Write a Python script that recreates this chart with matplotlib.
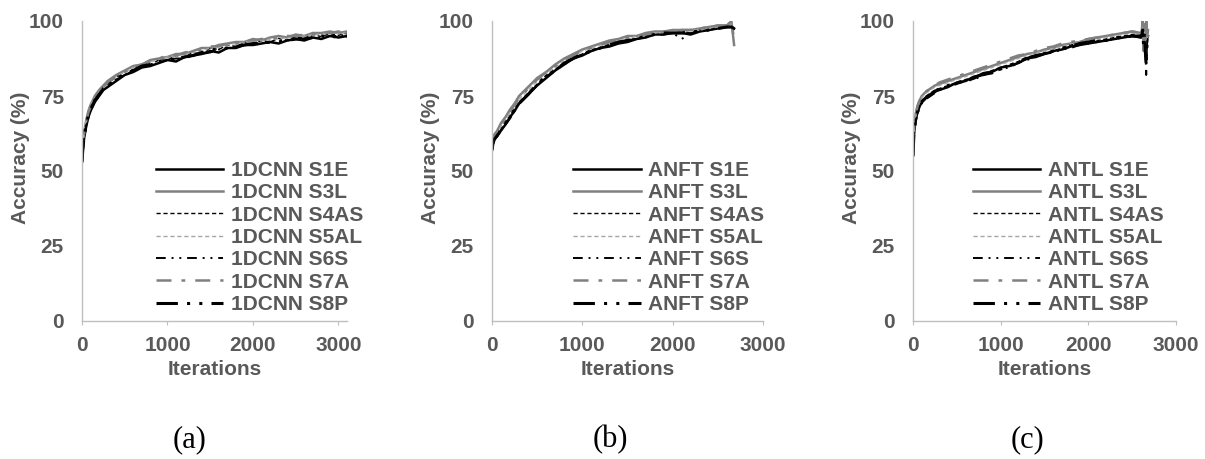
import matplotlib.pyplot as plt

plt.rcParams["font.family"] = ["Liberation Sans", "DejaVu Sans"]

series_names = ["S1E", "S3L", "S4AS", "S5AL", "S6S", "S7A", "S8P"]

# panel (a) 1DCNN
iters_a = [0, 10, 25, 50, 75, 100, 150, 200, 250, 300,
           400, 500, 600, 700, 800, 900, 1000, 1100, 1200, 1300,
           1400, 1500, 1600, 1700, 1800, 1900, 2000, 2100, 2200, 2300,
           2400, 2500, 2600, 2700, 2800, 2900, 3000, 3100]
acc_a = [
    [53, 57, 61, 65, 68, 70, 73, 75, 77, 78,
     80, 82, 83, 84.5, 85, 86, 87, 86.5, 88, 88.5,
     89, 90, 89.5, 91, 91, 92, 92, 92.5, 93, 92.5,
     93.5, 94, 93.5, 94.5, 94, 95, 94.5, 95],
    [54, 59, 63, 67, 70, 72, 75, 77, 78.5, 80,
     82, 83.5, 85, 85.5, 87, 87.5, 88, 89, 89, 90,
     91, 91, 92, 92.5, 93, 93, 94, 93.5, 94.5, 95,
     94.5, 95.5, 95, 96, 96, 96.5, 96, 96.5],
    [53, 58, 62, 66, 68.5, 71, 74, 75.5, 78, 79,
     81.5, 82, 84, 85.5, 85.5, 87, 87, 88.5, 88, 89.5,
     89, 91, 90.5, 92, 91.5, 92.8, 92.2, 93.5, 93, 94.2,
     93.6, 94.8, 94.2, 95.5, 94.8, 95.8, 95.2, 96],
    [54, 59, 63, 67, 70, 72, 74.5, 76.5, 78, 79.5,
     81.5, 83, 84.5, 85.5, 86.5, 87, 88, 88.5, 89, 89.5,
     90, 91, 91.5, 92, 92.5, 93, 93, 93.5, 94, 94,
     94.5, 95, 95, 95.5, 95.5, 96, 96, 96],
    [52.5, 57, 61, 65, 68, 70.5, 73.5, 75.5, 77, 78.5,
     80.5, 82, 83.5, 84.5, 85.5, 86, 87, 87.5, 87.5, 88.5,
     89, 89.5, 90.5, 91, 91.5, 92, 92, 92.5, 93, 93.5,
     93.5, 94, 94, 94.5, 94.5, 95, 95, 95.5],
    [54, 58.5, 62.5, 66.5, 69.5, 71.5, 74.5, 76.5, 78, 79.5,
     81.5, 83, 84.5, 85.5, 86.5, 87.5, 88.5, 88.5, 89.5, 90,
     90.5, 91.5, 91.5, 92.5, 92.5, 93.5, 93.5, 94, 94, 94.5,
     95, 95, 95.5, 95.5, 96, 96, 96.5, 96],
    [53, 57.5, 61.5, 65.5, 68.5, 70.5, 73.5, 75.5, 77.5, 78.5,
     80.5, 82.5, 83.5, 85, 85.5, 86.5, 87, 87.5, 88, 88.5,
     89.5, 90, 90.5, 91, 91.5, 92, 92.5, 92.5, 93, 93,
     93.5, 94, 94, 94.5, 95, 94.5, 95, 95],
]

# panel (b) ANFT
iters_b = [0, 10, 25, 50, 75, 100, 150, 200, 250, 300,
           400, 500, 600, 700, 800, 900, 1000, 1100, 1200, 1300,
           1400, 1500, 1600, 1700, 1800, 1900, 2000, 2100, 2200, 2300,
           2400, 2500, 2600, 2650, 2680]
acc_b = [
    [57, 59.5, 60.5, 61.5, 62.5, 63.5, 65.5, 68, 70, 72.5,
     75.5, 78.5, 81, 83.5, 85.5, 87.5, 88.5, 90, 91, 91.5,
     92.5, 93, 94, 94.5, 95.5, 95.5, 96, 96, 95.5, 96.5,
     97, 97.5, 98, 98, 97.5],
    [58, 61, 62, 63, 64.5, 66, 68, 70.5, 72.5, 75,
     78, 81, 83, 85.5, 87.5, 89, 90.5, 91.5, 92.5, 93.5,
     94, 95, 95, 96, 96.5, 96.5, 97, 97, 97, 97.5,
     98, 98.5, 98.5, 100, 92],
    [57.5, 59.5, 61, 62, 63, 64, 66.5, 68.5, 71, 73,
     76, 79, 82, 84, 86, 88, 89, 90.5, 91, 92.5,
     92.5, 94, 94, 95, 95.5, 96, 96, 96.5, 96, 97,
     97, 98, 98, 98, 97.5],
    [58, 60.5, 61.5, 62.5, 63.5, 65, 67, 69.5, 71.5, 74,
     77, 80, 82.5, 84.5, 87, 88.5, 90, 91, 92, 92.5,
     93.5, 94, 95, 95.5, 96, 96, 96.5, 96.5, 97, 97,
     97.5, 98, 98.5, 99, 96],
    [56.5, 59, 60, 61, 62.5, 63.5, 65.5, 67.5, 70, 72.5,
     75.5, 78.5, 81.5, 83.5, 85.5, 87.5, 89, 90, 91, 92,
     92.5, 93.5, 94, 94.5, 95.5, 95.5, 96, 94, 96, 96.5,
     97, 97.5, 98, 97.5, 97],
    [58.5, 61, 62, 63, 64, 65.5, 67.5, 70, 72, 74.5,
     77.5, 80.5, 83, 85, 87, 88.5, 90, 91, 92, 93,
     93.5, 94.5, 95, 95.5, 96, 96.5, 96.5, 97, 97, 97.5,
     98, 98.5, 98.5, 99.5, 94],
    [57, 59, 60.5, 61.5, 62.5, 64, 66, 68, 70.5, 72.5,
     75.5, 79, 81.5, 83.5, 86, 87.5, 89, 90, 91, 92,
     93, 93.5, 94, 95, 95.5, 96, 96, 96, 96.5, 96.5,
     97, 97.5, 98, 98, 97.5],
]

# panel (c) ANTL
iters_c = [0, 10, 25, 50, 75, 100, 150, 200, 250, 300,
           400, 500, 600, 700, 800, 900, 1000, 1100, 1200, 1300,
           1400, 1500, 1600, 1700, 1800, 1900, 2000, 2100, 2200, 2300,
           2400, 2500, 2600, 2610, 2620, 2630, 2640, 2650, 2660, 2670, 2680]
acc_c = [
    [55, 62, 66, 69.5, 71.5, 73, 74.5, 75.5, 76.5, 77,
     78, 79.5, 80, 81.5, 82, 83, 84.5, 85, 86, 87.5,
     88, 89, 90, 90.5, 91.5, 92, 92.5, 93, 93.5, 94,
     94.5, 95, 94.5, 95, 96, 93, 95, 92, 88, 94, 95],
    [56, 64, 68, 71.5, 73.5, 75, 76.5, 77.5, 78.5, 79,
     80, 81, 82, 83, 84, 85, 86, 87, 88, 89,
     89.5, 90.5, 91, 92, 92.5, 93, 94, 94.5, 95, 95.5,
     96, 96.5, 96, 97, 100, 90, 99, 88, 100, 93, 97],
    [55, 62.5, 66.5, 70, 72, 73.5, 75, 76, 77, 77.5,
     78.5, 79.5, 80.5, 81.5, 82.5, 83.5, 84.5, 85.5, 86.5, 88,
     88.5, 89.5, 90, 91, 92, 92.5, 93, 93.5, 94, 94.5,
     95, 95.5, 95, 95, 96, 94, 95, 93, 90, 94, 95],
    [56, 63.5, 67.5, 71, 73, 74.5, 76, 77, 78, 78.5,
     79.5, 80.5, 81.5, 82.5, 83.5, 84.5, 85.5, 86.5, 87.5, 88.5,
     89.5, 90, 91, 91.5, 92.5, 93, 93.5, 94, 94.5, 95,
     95.5, 96, 95.5, 96, 98, 93, 97, 91, 98, 94, 96],
    [54.5, 61.5, 65.5, 69, 71, 72.5, 74, 75, 76, 77,
     78, 79, 80, 80.5, 82, 82.5, 84, 84.5, 86, 87,
     88, 89, 89.5, 90.5, 91, 92, 92.5, 93, 93.5, 94,
     94.5, 95, 94.5, 95, 96, 93, 95, 91, 82, 93, 95],
    [56, 64, 68, 71.5, 73.5, 75, 76.5, 77.5, 78.5, 79.5,
     80.5, 81.5, 82.5, 83.5, 84.5, 85.5, 86.5, 87.5, 88.5, 89,
     90, 91, 91.5, 92.5, 93, 93.5, 94, 94.5, 95, 95.5,
     96, 96.5, 96, 96, 99, 92, 98, 90, 99, 94, 96],
    [55, 62, 66, 69.5, 71.5, 73, 74.5, 75.5, 76.5, 77.5,
     78.5, 79.5, 80, 81, 82.5, 83, 84, 85, 86.5, 87.5,
     88.5, 89, 90, 91, 91.5, 92.5, 93, 93.5, 93.5, 94.5,
     94.5, 95, 95, 95, 97, 92, 96, 90, 85, 93, 95],
]

# line looks for S1E ... S8P
styles = [
    dict(color="black", lw=1.8, ls="-"),
    dict(color="#808080", lw=1.8, ls="-"),
    dict(color="black", lw=1.0, ls=(0, (3, 2))),
    dict(color="#a6a6a6", lw=1.0, ls=(0, (3, 2))),
    dict(color="black", lw=1.4, ls=(0, (5, 3, 1, 3, 1, 3))),
    dict(color="#808080", lw=1.8, ls=(0, (6, 4, 1.5, 4))),
    dict(color="black", lw=2.2, ls=(0, (7, 3, 1, 3, 1, 3))),
]

panels = [
    ("1DCNN", iters_a, acc_a, [82, 265], 3100, 0.279, "(a)", 190),
    ("ANFT", iters_b, acc_b, [492, 271], 3000, 0.299, "(b)", 610),
    ("ANTL", iters_c, acc_c, [913, 263], 3000, 0.228, "(c)", 1027),
]

W, H = 1205, 459
text_grey = "#595959"
axis_grey = "#bfbfbf"
fs = 15

fig = plt.figure(figsize=(W / 100, H / 100), dpi=100)

for model, iters, accs, (left, width), xmax, leg_x, tag, tag_x in panels:
    ax = fig.add_axes([left / W, 1 - 321 / H, width / W, 300 / H])
    for name, acc, st in zip(series_names, accs, styles):
        ax.plot(iters, acc, label=f"{model} {name}", **st)
    ax.set_xlim(0, xmax)
    ax.set_ylim(0, 100)
    ax.set_xticks([0, 1000, 2000, 3000])
    ax.set_yticks([0, 25, 50, 75, 100])
    for side in ("top", "right"):
        ax.spines[side].set_visible(False)
    for side in ("left", "bottom"):
        ax.spines[side].set_color(axis_grey)
        ax.spines[side].set_linewidth(1.0)
    ax.tick_params(axis="x", direction="out", length=3, color=axis_grey, pad=8)
    ax.tick_params(axis="y", length=0, pad=13)
    for lab in ax.get_xticklabels() + ax.get_yticklabels():
        lab.set_fontsize(fs)
        lab.set_fontweight("bold")
        lab.set_color(text_grey)
    ax.set_xlabel("Iterations", fontsize=fs, fontweight="bold", color=text_grey)
    ax.set_ylabel("Accuracy (%)", fontsize=fs, fontweight="bold", color=text_grey)
    ax.xaxis.set_label_coords(0.5, -0.13)
    ax.yaxis.set_label_coords(-0.196 * 265 / width, 0.543)
    leg = ax.legend(loc="upper left", bbox_to_anchor=(leg_x, 0.533), frameon=False,
                    handlelength=3.24, handletextpad=0.38, labelspacing=0.16,
                    borderpad=0, borderaxespad=0,
                    prop=dict(size=fs, weight="bold"))
    for t in leg.get_texts():
        t.set_color(text_grey)
    fig.text(tag_x / W, 1 - 440 / H, tag, ha="center", va="center",
             family=["Liberation Serif", "DejaVu Serif"], fontsize=22)

fig.savefig("out.png", dpi=100)
